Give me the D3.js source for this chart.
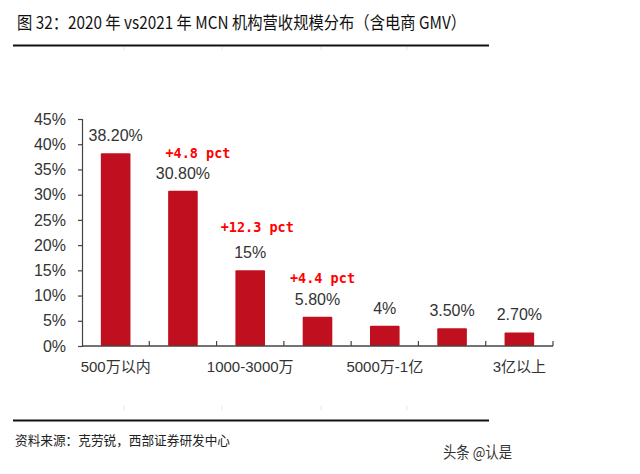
<!DOCTYPE html>
<html><head><meta charset="utf-8">
<script src="https://cdn.jsdelivr.net/npm/d3@7/dist/d3.min.js"></script>
<style>body{margin:0;background:#fff}svg{display:block}</style>
</head><body>
<script>
const categories = ["500万以内","500-1000万","1000-3000万","3000-5000万","5000万-1亿","1-3亿","3亿以上"];
const shownLabels = ["500万以内","1000-3000万","5000万-1亿","3亿以上"];
const values = [38.2, 30.8, 15, 5.8, 4, 3.5, 2.7];
const valueLabels = ["38.20%","30.80%","15%","5.80%","4%","3.50%","2.70%"];
const yTicks = [0,5,10,15,20,25,30,35,40,45];
const annoCats = ["500-1000万","1000-3000万","3000-5000万"];
const annoTexts = ["+4.8 pct","+12.3 pct","+4.4 pct"];
const titleText = "图 32：2020 年 vs2021 年 MCN 机构营收规模分布（含电商 GMV）";
const sourceText = "资料来源：克劳锐，西部证券研发中心";
const watermark = "头条 @认是";

const W = 640, H = 474;
const svg = d3.select("body").append("svg").attr("width", W).attr("height", H);
svg.append("rect").attr("width", W).attr("height", H).attr("fill", "#fff");

const sans = "'Liberation Sans', Arial, 'Noto Sans CJK SC', sans-serif";
const cjk = "'Noto Sans CJK SC', sans-serif";

// title
svg.append("text").attr("x", 17).attr("y", 29)
  .attr("font-family", "'Noto Sans CJK SC', 'Liberation Sans Narrow', sans-serif")
  .attr("font-size", 17.5).attr("fill", "#111")
  .attr("textLength", 449).attr("lengthAdjust", "spacingAndGlyphs")
  .text(titleText);
svg.append("line").attr("x1", 13).attr("x2", 489).attr("y1", 45.5).attr("y2", 45.5)
  .attr("stroke", "#111").attr("stroke-width", 2);
svg.append("line").attr("x1", 13).attr("x2", 489).attr("y1", 420.5).attr("y2", 420.5)
  .attr("stroke", "#111").attr("stroke-width", 2);
// faint table remnants
[124, 222, 321, 407].forEach(xx => {
  svg.append("line").attr("x1", xx).attr("x2", xx).attr("y1", 47).attr("y2", 50).attr("stroke", "#e4e4e4");
  svg.append("line").attr("x1", xx).attr("x2", xx).attr("y1", 406).attr("y2", 410).attr("stroke", "#e4e4e4");
});

// source & watermark
svg.append("text").attr("x", 15).attr("y", 445).attr("font-family", cjk)
  .attr("font-size", 13).attr("fill", "#222")
  .attr("textLength", 215).attr("lengthAdjust", "spacingAndGlyphs").text(sourceText);
svg.append("text").attr("x", 443).attr("y", 458).attr("font-family", cjk)
  .attr("font-size", 15.5).attr("fill", "#333")
  .attr("textLength", 69).attr("lengthAdjust", "spacingAndGlyphs").text(watermark);

// scales
const x = d3.scaleBand().domain(categories).range([82, 553]).paddingInner(0).paddingOuter(0);
const y = d3.scaleLinear().domain([0, 45]).range([346, 119]);
const barW = x.bandwidth() * 0.44;
const axisColor = "#444";

// y axis
const yAxis = svg.append("g").attr("transform", "translate(82,0)")
  .call(d3.axisLeft(y).tickValues(yTicks).tickSize(4).tickPadding(12).tickFormat(d => d + "%"));
yAxis.select(".domain").attr("stroke", axisColor).attr("stroke-width", 1.2);
yAxis.selectAll(".tick line").attr("stroke", axisColor).attr("stroke-width", 1.2);
yAxis.selectAll("text").attr("font-family", sans).attr("font-size", 16).attr("fill", "#333");

// bars
svg.append("g").selectAll("rect").data(categories).join("rect")
  .attr("x", (d) => x(d) + x.bandwidth() / 2 - barW / 2)
  .attr("y", (d, i) => y(values[i]))
  .attr("width", barW)
  .attr("height", (d, i) => y(0) - y(values[i]))
  .attr("fill", "#C0101F")
  .attr("rx", 1);

// x axis
const xAxisG = svg.append("g").attr("transform", "translate(0,346)");
xAxisG.append("line").attr("x1", 82).attr("x2", 553).attr("y1", 0).attr("y2", 0)
  .attr("stroke", axisColor).attr("stroke-width", 1.5);
const boundaries = categories.map(c => x(c)).concat([x(categories[categories.length - 1]) + x.bandwidth()]);
xAxisG.selectAll("line.tk").data(boundaries.slice(1)).join("line").attr("class", "tk")
  .attr("x1", d => d).attr("x2", d => d).attr("y1", 0).attr("y2", -5)
  .attr("stroke", axisColor).attr("stroke-width", 1.2);
xAxisG.selectAll("text").data(shownLabels).join("text")
  .attr("x", d => x(d) + x.bandwidth() / 2).attr("y", 26)
  .attr("text-anchor", "middle").attr("font-family", sans).attr("font-size", 15).attr("fill", "#333")
  .text(d => d);

// value labels
svg.append("g").selectAll("text").data(categories).join("text")
  .attr("x", d => x(d) + x.bandwidth() / 2)
  .attr("y", (d, i) => y(values[i]) - 12)
  .attr("text-anchor", "middle").attr("font-family", sans).attr("font-size", 16).attr("fill", "#333")
  .text((d, i) => valueLabels[i]);

// annotations
const annoDx = [15, 7, 5];
const annoDy = [33, 38, 34];
svg.append("g").selectAll("text").data(annoCats).join("text")
  .attr("x", (d, i) => x(d) + x.bandwidth() / 2 + annoDx[i])
  .attr("y", (d, i) => y(values[categories.indexOf(d)]) - annoDy[i])
  .attr("text-anchor", "middle").attr("font-family", "'DejaVu Sans Mono', 'Liberation Mono', monospace")
  .attr("font-weight", "bold").attr("font-size", 13.5).attr("fill", "#FF0000")
  .text((d, i) => annoTexts[i]);
</script>
</body></html>
